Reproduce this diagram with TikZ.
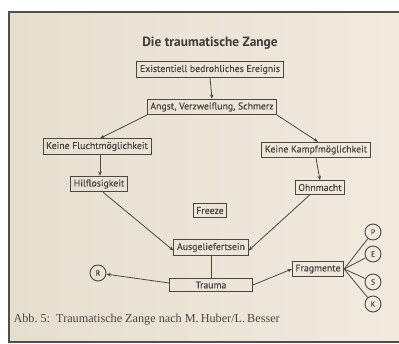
\documentclass[tikz,border=0pt]{standalone}
\usepackage{fontspec}
\setmainfont{Liberation Serif}
\setsansfont{PT Sans}
\usetikzlibrary{arrows.meta,shadings}
\definecolor{paperL}{HTML}{E6DECF}
\definecolor{paperR}{HTML}{F2EADF}
\definecolor{ink}{HTML}{4A4744}
\definecolor{frameC}{HTML}{4E4E4E}
\tikzset{
  box/.style={draw=ink, line width=0.9pt, fill=none, inner xsep=3.2pt, inner ysep=3.2pt,
    font=\sffamily\fontsize{9.8}{11}\selectfont\addfontfeature{FakeBold=0.4}, text=ink},
  letter/.style={draw=ink, line width=0.9pt, circle, minimum size=16pt, inner sep=0pt,
    font=\sffamily\fontsize{7.5}{8}\selectfont\addfontfeature{FakeBold=0.3}, text=ink},
  link/.style={draw=ink, line width=0.8pt},
  arr/.style={link, -{Stealth[length=4.5pt,width=3.5pt]}},
}
\begin{document}
\begin{tikzpicture}[x=1pt,y=-1pt]
\useasboundingbox (0,0) rectangle (399,343);
% paper and frame
\fill[white] (0,0) rectangle (399,343);
\shade[left color=paperL, right color=paperR] (9,12) rectangle (399,341);
\fill[frameC] (8,11) rectangle (399,13.2);
\fill[frameC] (8,11) rectangle (10.2,343);
\fill[frameC] (8,340.5) rectangle (399,343);

% title
\node[font=\sffamily\bfseries\fontsize{13.4}{15}\selectfont, text=ink!85!black] (title) at (210,43) {Die traumatische Zange};

% boxes
\node[box] (ereignis) at (210,69.5) {Existentiell bedrohliches Ereignis};
\node[box] (angst) at (212,107) {Angst, Verzweiflung, Schmerz};
\node[box] (flucht) at (97,146.5) {Keine Fluchtmöglichkeit};
\node[box] (kampf) at (316,150) {Keine Kampfmöglichkeit};
\node[box] (hilf) at (99,184) {Hilflosigkeit};
\node[box] (ohn) at (320,187.5) {Ohnmacht};
\node[box] (freeze) at (210,210.5) {Freeze};
\node[box] (ausg) at (211,247.5) {Ausgeliefertsein};
\node[box, minimum width=83pt] (trauma) at (211,285) {Trauma};
\node[box] (frag) at (318,269) {Fragmente};

% letter circles
\node[letter] (R) at (98,273) {R};
\node[letter] (P) at (373,232) {P};
\node[letter] (E) at (373,254) {E};
\node[letter] (S) at (373,282) {S};
\node[letter] (K) at (373,304) {K};

% connectors
\draw[arr] (ereignis.south) -- (angst.north);
\draw[arr] (angst.south west) -- ([xshift=3pt]flucht.north);
\draw[arr] (angst.south east) -- ([xshift=2pt]kampf.north);
\draw[arr] ([xshift=3pt]flucht.south) -- ([xshift=1pt]hilf.north);
\draw[arr] (kampf.south) -- (ohn.north);
\draw[arr] ([xshift=4pt]hilf.south) -- ([yshift=-3pt]ausg.west);
\draw[arr] ([xshift=-10pt]ohn.south) -- ([yshift=-3pt]ausg.east);
\draw[link] (ausg.south) -- (trauma.north);
\draw[arr] ([yshift=2pt]trauma.west) -- (R);
\draw[arr] (trauma.east) -- (frag.west);
\foreach \c in {P,E,S,K}
  \draw[link] (frag.east) -- (\c);

% caption
\node[anchor=west, font=\fontsize{12.2}{14}\selectfont, text=ink] (caption) at (10,320) {Abb.\ 5:\enspace Traumatische Zange nach M.\,Huber/L.\,Besser};
\end{tikzpicture}
\end{document}
